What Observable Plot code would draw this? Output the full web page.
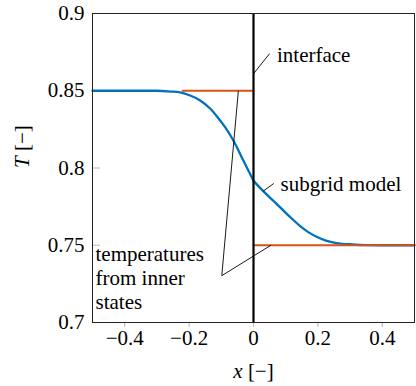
<!DOCTYPE html>
<html>
<head>
<meta charset="utf-8">
<script src="https://cdn.jsdelivr.net/npm/d3@7"></script>
<script src="https://cdn.jsdelivr.net/npm/@observablehq/plot@0.6"></script>
<style>
  html, body { margin: 0; padding: 0; background: #fff; }
</style>
</head>
<body>
<div id="chart"></div>
<script>
// --- data ---
const xTicks = [-0.4, -0.2, 0, 0.2, 0.4];
const yTicks = [0.7, 0.75, 0.8, 0.85, 0.9];

// subgrid model profile (blue), left and right of the interface
const leftCurveX = [-0.5, -0.3, -0.2585, -0.2276, -0.1966, -0.1656, -0.1347, -0.114, -0.0882, -0.0625, -0.0316, 0];
const leftCurveT = [0.85, 0.85, 0.8495, 0.8489, 0.8469, 0.8437, 0.8385, 0.8335, 0.8264, 0.8178, 0.8049, 0.7917];
const rightCurveX = [0, 0.0303, 0.0718, 0.1, 0.123, 0.144, 0.17, 0.196, 0.225, 0.2576, 0.308, 0.35, 0.4, 0.5];
const rightCurveT = [0.7917, 0.785, 0.7768, 0.771, 0.7665, 0.7625, 0.7585, 0.7555, 0.753, 0.7514, 0.7505, 0.7501, 0.75, 0.75];

// inner-state temperatures (red)
const leftStateX = [-0.22, 0];
const leftStateT = [0.85, 0.85];
const rightStateX = [0, 0.5];
const rightStateT = [0.75, 0.75];

// interface position
const interfaceX = [0];

// annotation pins
const pinX1 = [0, 0.030, -0.0985, -0.0985];
const pinT1 = [0.861, 0.785, 0.7303, 0.7303];
const pinX2 = [0.05, 0.063, -0.047, 0.054];
const pinT2 = [0.874, 0.790, 0.85, 0.75];

// annotation labels
const labelText = ["interface", "subgrid model", "temperatures\nfrom inner\nstates"];
const labelX = [0.073, 0.084, -0.4907];
const labelT = [0.8733, 0.7902, 0.7294];

const xLabel = "x [−]";
const yLabel = "T [−]";

const pins = pinX1.map((d, i) => ({x1: d, y1: pinT1[i], x2: pinX2[i], y2: pinT2[i]}));
const labels = labelText.map((t, i) => ({t, x: labelX[i], y: labelT[i]}));
const curve = [
  ...leftCurveX.map((x, i) => ({x, y: leftCurveT[i], side: "left"})),
  ...rightCurveX.map((x, i) => ({x, y: rightCurveT[i], side: "right"}))
];
const states = [
  ...leftStateX.map((x, i) => ({x, y: leftStateT[i], side: "left"})),
  ...rightStateX.map((x, i) => ({x, y: rightStateT[i], side: "right"}))
];

const fmtX = d => (d < 0 ? "−" : "") + String(Math.abs(d));
const fmtY = d => String(+d.toFixed(2));
const FONT = "Liberation Serif";

const svg = Plot.plot({
  width: 416,
  height: 386,
  marginLeft: 92,
  marginRight: 2,
  marginTop: 13,
  marginBottom: 64,
  style: {fontFamily: FONT, fontSize: "21px", background: "#fff", color: "#000"},
  x: {domain: [-0.5, 0.5]},
  y: {domain: [0.7, 0.9]},
  marks: [
    Plot.tickX(xTicks, {x: d => d, stroke: "#b8b8b8", strokeWidth: 1, insetTop: 314}),
    Plot.tickY(yTicks, {y: d => d, stroke: "#b8b8b8", strokeWidth: 1, insetRight: 314}),
    Plot.axisX(xTicks, {tickSize: 0, tickPadding: 8, tickFormat: fmtX, label: null, fill: "#000", fontFamily: FONT}),
    Plot.axisY(yTicks, {tickSize: 0, tickPadding: 8, tickFormat: fmtY, label: null, fill: "#000", fontFamily: FONT}),
    Plot.line(curve, {x: "x", y: "y", z: "side", stroke: "#0072BD", strokeWidth: 2.3, curve: "monotone-x"}),
    Plot.line(states, {x: "x", y: "y", z: "side", stroke: "#D95319", strokeWidth: 2}),
    Plot.ruleX(interfaceX, {x: d => d, stroke: "#000", strokeWidth: 2.2}),
    Plot.link(pins, {x1: "x1", y1: "y1", x2: "x2", y2: "y2", stroke: "#000", strokeWidth: 0.9}),
    Plot.text(labels, {x: "x", y: "y", text: "t", textAnchor: "start", lineAnchor: "middle", lineHeight: 1.15, fill: "#000", fontFamily: FONT}),
    Plot.text([xLabel], {frameAnchor: "bottom", dy: 49, text: d => d, lineAnchor: "middle", fill: "#000", fontFamily: FONT}),
    Plot.text([yLabel], {frameAnchor: "left", dx: -70, rotate: -90, text: d => d, lineAnchor: "middle", fill: "#000", fontFamily: FONT}),
    Plot.frame({stroke: "#222", strokeWidth: 1})
  ]
});

d3.select(svg).selectAll("text").each(function() {
  const t = this.textContent;
  if (t === xLabel || t === yLabel) {
    const s = d3.select(this);
    s.text(null);
    s.append("tspan").attr("font-style", "italic").text(t[0]);
    s.append("tspan").text(t.slice(1));
  }
});

document.getElementById("chart").appendChild(svg);
</script>
</body>
</html>
